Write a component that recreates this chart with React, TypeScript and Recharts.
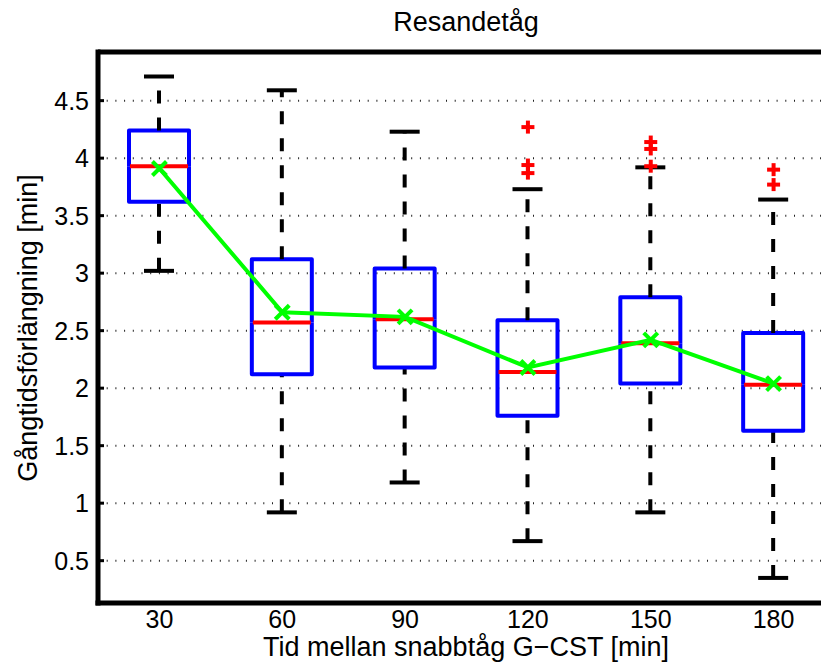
import React from 'react';
import {
  ComposedChart,
  Bar,
  Line,
  Scatter,
  XAxis,
  YAxis,
  CartesianGrid,
  ReferenceLine,
} from 'recharts';

// ---- data ----
const categories = [30, 60, 90, 120, 150, 180];
const whiskerLow = [3.02, 0.92, 1.18, 0.67, 0.92, 0.35];
const quartile1 = [3.62, 2.12, 2.18, 1.76, 2.04, 1.63];
const medians = [3.93, 2.57, 2.6, 2.14, 2.39, 2.03];
const quartile3 = [4.24, 3.12, 3.04, 2.59, 2.79, 2.48];
const whiskerHigh = [4.71, 4.59, 4.23, 3.73, 3.92, 3.64];
const means = [3.91, 2.66, 2.62, 2.18, 2.42, 2.04];
const outlierX = [120, 120, 120, 150, 150, 150, 180, 180];
const outlierY = [4.27, 3.94, 3.87, 4.14, 4.08, 3.93, 3.9, 3.77];
const yTicks = [0.5, 1, 1.5, 2, 2.5, 3, 3.5, 4, 4.5];
const yDomain = [0.132, 4.923];
const xDomain = [15, 195];

const title = 'Resandetåg';
const xLabel = 'Tid mellan snabbtåg G\u2212CST [min]';
const yLabel = 'Gångtidsförlängning [min]';

const FONT = '"Liberation Sans", Arial, Helvetica, sans-serif';

const data = categories.map((c, i) => ({
  x: c,
  base: whiskerLow[i],
  lowWhisker: quartile1[i] - whiskerLow[i],
  lowBox: medians[i] - quartile1[i],
  highBox: quartile3[i] - medians[i],
  highWhisker: whiskerHigh[i] - quartile3[i],
  mean: means[i],
}));

const outliers = outlierX.map((x, i) => ({ x, out: outlierY[i] }));

const DASH = '13 14';

const Nothing = () => null;

const LowWhiskerShape = (p: any) => {
  const { x, y, width, height } = p;
  const cx = x + width / 2;
  const cap = width / 4;
  const yb = y + height;
  return (
    <g>
      <line x1={cx} y1={yb} x2={cx} y2={y} stroke="#000" strokeWidth={4} strokeDasharray={DASH} />
      <line x1={cx - cap} x2={cx + cap} y1={yb} y2={yb} stroke="#000" strokeWidth={4} />
    </g>
  );
};

const HighWhiskerShape = (p: any) => {
  const { x, y, width, height } = p;
  const cx = x + width / 2;
  const cap = width / 4;
  const yb = y + height;
  return (
    <g>
      <line x1={cx} y1={yb} x2={cx} y2={y} stroke="#000" strokeWidth={4} strokeDasharray={DASH} />
      <line x1={cx - cap} x2={cx + cap} y1={y} y2={y} stroke="#000" strokeWidth={4} />
    </g>
  );
};

const LowBoxShape = (p: any) => {
  const { x, y, width, height } = p;
  const yb = y + height;
  return (
    <path
      d={`M${x},${y} L${x},${yb} L${x + width},${yb} L${x + width},${y}`}
      fill="none"
      stroke="#0000FF"
      strokeWidth={4}
      strokeLinejoin="round"
    />
  );
};

const HighBoxShape = (p: any) => {
  const { x, y, width, height } = p;
  const yb = y + height;
  return (
    <g>
      <path
        d={`M${x},${yb} L${x},${y} L${x + width},${y} L${x + width},${yb}`}
        fill="none"
        stroke="#0000FF"
        strokeWidth={4}
        strokeLinejoin="round"
      />
      <line x1={x + 1} x2={x + width - 1} y1={yb} y2={yb} stroke="#FF0000" strokeWidth={4} />
    </g>
  );
};

const MeanDot = (p: any) => {
  const { cx, cy } = p;
  if (cx == null || cy == null) return null;
  const s = 7;
  return (
    <g>
      <line x1={cx - s} y1={cy - s} x2={cx + s} y2={cy + s} stroke="#00FF00" strokeWidth={4} />
      <line x1={cx - s} y1={cy + s} x2={cx + s} y2={cy - s} stroke="#00FF00" strokeWidth={4} />
    </g>
  );
};

const PlusShape = (p: any) => {
  const { cx, cy } = p;
  if (cx == null || cy == null) return null;
  const s = 6.5;
  return (
    <g>
      <line x1={cx - s} y1={cy} x2={cx + s} y2={cy} stroke="#FF0000" strokeWidth={4} />
      <line x1={cx} y1={cy - s} x2={cx} y2={cy + s} stroke="#FF0000" strokeWidth={4} />
    </g>
  );
};

const YTick = (p: any) => {
  const { x, y, payload } = p;
  return (
    <g>
      <text x={x} y={y} dy={9} textAnchor="end" fontSize={25} fontFamily={FONT} fill="#000">
        {payload.value}
      </text>
      <line x1={x + 9} x2={x + 15} y1={y} y2={y} stroke="#000" strokeWidth={3} />
    </g>
  );
};

const XTick = (p: any) => {
  const { x, y, payload } = p;
  return (
    <text x={x} y={y + 25} textAnchor="middle" fontSize={25} fontFamily={FONT} fill="#000">
      {payload.value}
    </text>
  );
};

export default function App() {
  return (
    <div style={{ width: 821, height: 654, overflow: 'hidden', background: '#fff' }}>
      <ComposedChart
        width={850}
        height={654}
        data={data}
        margin={{ top: 44, right: 23, bottom: 19, left: 0 }}
      >
        <CartesianGrid
          vertical={false}
          stroke="#222"
          strokeWidth={2}
          strokeDasharray="1 7.7"
        />
        <XAxis
          dataKey="x"
          type="number"
          domain={xDomain}
          ticks={categories}
          allowDataOverflow
          height={40}
          tickSize={0}
          tickMargin={0}
          tick={<XTick />}
          axisLine={{ stroke: '#000', strokeWidth: 5, strokeLinecap: 'square' }}
          tickLine={false}
        />
        <YAxis
          type="number"
          domain={yDomain}
          ticks={yTicks}
          allowDataOverflow
          width={90}
          tickSize={0}
          tickMargin={9}
          tick={<YTick />}
          axisLine={{ stroke: '#000', strokeWidth: 5, strokeLinecap: 'square' }}
          tickLine={false}
        />
        <ReferenceLine
          y={yDomain[1]}
          stroke="#000"
          strokeWidth={5}
          ifOverflow="visible"
        />
        <Bar dataKey="base" stackId="box" barSize={60} shape={<Nothing />} isAnimationActive={false} />
        <Bar dataKey="lowWhisker" stackId="box" barSize={60} shape={<LowWhiskerShape />} isAnimationActive={false} />
        <Bar dataKey="lowBox" stackId="box" barSize={60} shape={<LowBoxShape />} isAnimationActive={false} />
        <Bar dataKey="highBox" stackId="box" barSize={60} shape={<HighBoxShape />} isAnimationActive={false} />
        <Bar dataKey="highWhisker" stackId="box" barSize={60} shape={<HighWhiskerShape />} isAnimationActive={false} />
        <Line
          dataKey="mean"
          stroke="#00FF00"
          strokeWidth={4}
          dot={<MeanDot />}
          activeDot={false}
          isAnimationActive={false}
        />
        <Scatter data={outliers} dataKey="out" shape={<PlusShape />} isAnimationActive={false} />
        <text x={458} y={23} textAnchor="middle" fontSize={27} fontFamily={FONT} fill="#000">
          {title}
        </text>
        <text x={458} y={648} textAnchor="middle" fontSize={27} fontFamily={FONT} fill="#000">
          {xLabel}
        </text>
        <text
          x={29}
          y={320}
          textAnchor="middle"
          fontSize={27}
          fontFamily={FONT}
          fill="#000"
          transform="rotate(-90 29 320)"
        >
          {yLabel}
        </text>
      </ComposedChart>
    </div>
  );
}
